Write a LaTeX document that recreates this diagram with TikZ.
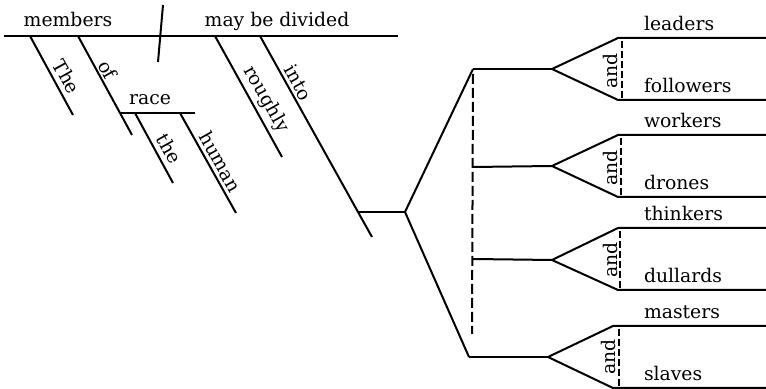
\documentclass[tikz,border=0pt]{standalone}
\usepackage{fontspec}
\setmainfont{DejaVu Serif}
\usetikzlibrary{calc}
\begin{document}
\begin{tikzpicture}[x=0.5pt,y=-0.5pt,line width=1pt]
\tikzset{
  word/.style={font=\fontsize{9.4}{11}\selectfont,inner sep=0pt},
  lbl/.style={word,anchor=base west},
  slant/.style={word,anchor=base},
  conj/.style={word,rotate=90,anchor=base},
  bigdash/.style={dash pattern=on 5pt off 2pt},
  smalldash/.style={dash pattern=on 3.5pt off 1.5pt}
}
\useasboundingbox (0,0) rectangle (766,389);
% ---- main line
\coordinate (ml1) at (4,36);
\coordinate (ml2) at (398,36);
\coordinate (dv1) at (163,5);
\coordinate (dv2) at (158,62);
\draw (ml1) -- (ml2);
\draw (dv1) -- (dv2);
\node[word,anchor=base] (members) at (68,27) {members};
\node[word,anchor=base] (verb) at (277,27) {may be divided};
% ---- modifiers of subject
\coordinate (the1) at (30,36);  \coordinate (the2) at (73,115);
\coordinate (of1) at (78,36);   \coordinate (of2) at (132,135);
\coordinate (race1) at (120,113); \coordinate (race2) at (195,113);
\coordinate (art1) at (135,113); \coordinate (art2) at (173,183);
\coordinate (hum1) at (180,113); \coordinate (hum2) at (236,213);
\draw (the1) -- (the2);
\draw (of1) -- (of2);
\draw (race1) -- (race2);
\draw (art1) -- (art2);
\draw (hum1) -- (hum2);
\node[slant,rotate=-61.1] (wThe) at ($(the1)!.59!(the2)!3.0pt!90:(the2)$) {The};
\node[slant,rotate=-61.1] (wof) at ($(of1)!.39!(of2)!1.6pt!90:(of2)$) {of};
\node[word,anchor=base] (wrace) at (150,105) {race};
\node[slant,rotate=-61.2] (wthe) at ($(art1)!.60!(art2)!3.0pt!90:(art2)$) {the};
\node[slant,rotate=-60.5] (whuman) at ($(hum1)!.545!(hum2)!2.2pt!90:(hum2)$) {human};
% ---- modifiers of verb
\coordinate (rou1) at (215,36); \coordinate (rou2) at (282,157);
\coordinate (into1) at (260,36); \coordinate (into2) at (358,212); \coordinate (into3) at (372,237);
\draw (rou1) -- (rou2);
\draw (into1) -- (into2) -- (into3);
\node[slant,rotate=-60.6] (wrough) at ($(rou1)!.58!(rou2)!4.3pt!90:(rou2)$) {roughly};
\node[slant,rotate=-60.6] (winto) at ($(into1)!.294!(into2)!2pt!90:(into2)$) {into};
% ---- object fork
\coordinate (j) at (405,212);
\coordinate (f1) at (473,69);
\coordinate (f4) at (469,357);
\coordinate (h2L) at (473,167);
\coordinate (h3L) at (473,259);
\coordinate (dsA) at (473,74);
\coordinate (dsB) at (472,334);
\draw (into2) -- (j);
\draw (f1) -- (j) -- (f4);
\draw[bigdash] (dsA) -- (dsB);
% ---- compound members
\coordinate (a1) at (552,69);  \coordinate (u1) at (618,38);  \coordinate (l1) at (618,100);
\coordinate (a2) at (552,166); \coordinate (u2) at (618,135); \coordinate (l2) at (618,197);
\coordinate (a3) at (552,260); \coordinate (u3) at (618,228); \coordinate (l3) at (618,290);
\coordinate (a4) at (548,357); \coordinate (u4) at (613,326); \coordinate (l4) at (613,388);
\coordinate (ue1) at (766,38);  \coordinate (le1) at (766,100);
\coordinate (ue2) at (766,135); \coordinate (le2) at (766,197);
\coordinate (ue3) at (766,228); \coordinate (le3) at (766,290);
\coordinate (ue4) at (766,326); \coordinate (le4) at (766,388);
\draw (f1) -- (a1);
\draw (h2L) -- (a2);
\draw (h3L) -- (a3);
\draw (f4) -- (a4);
\draw (ue1) -- (u1) -- (a1) -- (l1) -- (le1);
\draw (ue2) -- (u2) -- (a2) -- (l2) -- (le2);
\draw (ue3) -- (u3) -- (a3) -- (l3) -- (le3);
\draw (ue4) -- (u4) -- (a4) -- (l4) -- (le4);
\coordinate (d1a) at (622,41);  \coordinate (d1b) at (622,99);
\coordinate (d2a) at (621,138); \coordinate (d2b) at (621,196);
\coordinate (d3a) at (620,231); \coordinate (d3b) at (620,289);
\coordinate (d4a) at (619,329); \coordinate (d4b) at (619,388);
\draw[smalldash] (d1a) -- (d1b);
\draw[smalldash] (d2a) -- (d2b);
\draw[smalldash] (d3a) -- (d3b);
\draw[smalldash] (d4a) -- (d4b);
\node[conj] (and1) at (617,71) {and};
\node[conj] (and2) at (617,168) {and};
\node[conj] (and3) at (617,260) {and};
\node[conj] (and4) at (615,357) {and};
\node[lbl] (leaders) at (643,31) {leaders};
\node[lbl] (followers) at (643,93) {followers};
\node[lbl] (workers) at (643,128) {workers};
\node[lbl] (drones) at (643,190) {drones};
\node[lbl] (thinkers) at (643,221) {thinkers};
\node[lbl] (dullards) at (643,283) {dullards};
\node[lbl] (masters) at (643,319) {masters};
\node[lbl] (slaves) at (643,381) {slaves};
\end{tikzpicture}
\end{document}
